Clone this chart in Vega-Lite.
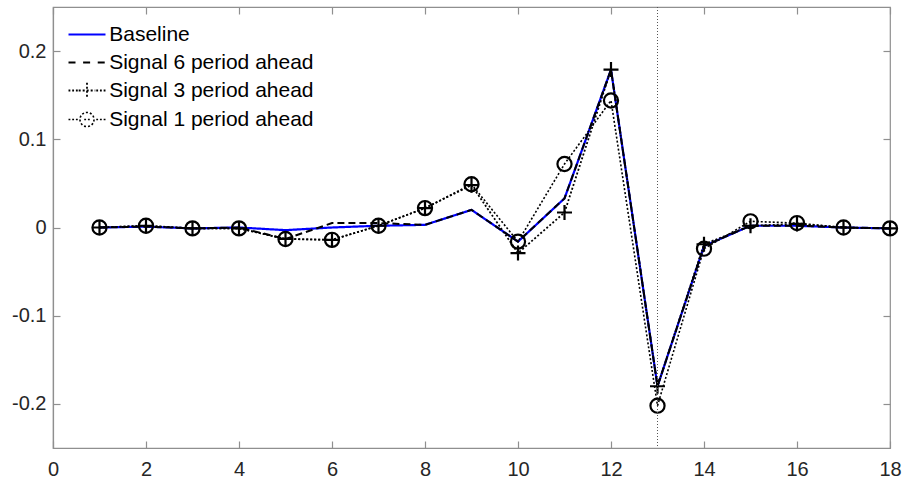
{
  "$schema": "https://vega.github.io/schema/vega-lite/v6.json",
  "width": 837,
  "height": 441,
  "autosize": {"type": "none"},
  "padding": {"left": 53, "top": 7, "right": 15, "bottom": 35},
  "background": "white",
  "config": {
    "view": {"stroke": "#8f8f8f", "strokeWidth": 1.2},
    "axis": {
      "grid": false,
      "domainColor": "#8f8f8f",
      "domainWidth": 1.2,
      "tickColor": "#8f8f8f",
      "tickWidth": 1.2,
      "tickSize": -7,
      "labelFont": "Liberation Sans",
      "labelFontSize": 20,
      "labelColor": "#262626",
      "title": null
    }
  },
  "data": {
    "values": [
      {"t": 1, "Baseline": 0.000, "Signal 6 period ahead": 0.000, "Signal 3 period ahead": 0.000, "Signal 1 period ahead": 0.000},
      {"t": 2, "Baseline": 0.001, "Signal 6 period ahead": 0.001, "Signal 3 period ahead": 0.002, "Signal 1 period ahead": 0.002},
      {"t": 3, "Baseline": -0.001, "Signal 6 period ahead": -0.001, "Signal 3 period ahead": -0.001, "Signal 1 period ahead": -0.001},
      {"t": 4, "Baseline": 0.000, "Signal 6 period ahead": 0.000, "Signal 3 period ahead": -0.001, "Signal 1 period ahead": -0.001},
      {"t": 5, "Baseline": -0.003, "Signal 6 period ahead": -0.013, "Signal 3 period ahead": -0.013, "Signal 1 period ahead": -0.013},
      {"t": 6, "Baseline": 0.000, "Signal 6 period ahead": 0.005, "Signal 3 period ahead": -0.014, "Signal 1 period ahead": -0.014},
      {"t": 7, "Baseline": 0.002, "Signal 6 period ahead": 0.005, "Signal 3 period ahead": 0.002, "Signal 1 period ahead": 0.002},
      {"t": 8, "Baseline": 0.003, "Signal 6 period ahead": 0.003, "Signal 3 period ahead": 0.022, "Signal 1 period ahead": 0.022},
      {"t": 9, "Baseline": 0.020, "Signal 6 period ahead": 0.020, "Signal 3 period ahead": 0.048, "Signal 1 period ahead": 0.049},
      {"t": 10, "Baseline": -0.016, "Signal 6 period ahead": -0.016, "Signal 3 period ahead": -0.029, "Signal 1 period ahead": -0.016},
      {"t": 11, "Baseline": 0.033, "Signal 6 period ahead": 0.033, "Signal 3 period ahead": 0.017, "Signal 1 period ahead": 0.072},
      {"t": 12, "Baseline": 0.179, "Signal 6 period ahead": 0.179, "Signal 3 period ahead": 0.179, "Signal 1 period ahead": 0.144},
      {"t": 13, "Baseline": -0.180, "Signal 6 period ahead": -0.180, "Signal 3 period ahead": -0.180, "Signal 1 period ahead": -0.202},
      {"t": 14, "Baseline": -0.021, "Signal 6 period ahead": -0.021, "Signal 3 period ahead": -0.019, "Signal 1 period ahead": -0.024},
      {"t": 15, "Baseline": 0.002, "Signal 6 period ahead": 0.002, "Signal 3 period ahead": 0.002, "Signal 1 period ahead": 0.007},
      {"t": 16, "Baseline": 0.002, "Signal 6 period ahead": 0.002, "Signal 3 period ahead": 0.004, "Signal 1 period ahead": 0.005},
      {"t": 17, "Baseline": 0.000, "Signal 6 period ahead": 0.000, "Signal 3 period ahead": 0.000, "Signal 1 period ahead": 0.000},
      {"t": 18, "Baseline": -0.001, "Signal 6 period ahead": -0.001, "Signal 3 period ahead": -0.001, "Signal 1 period ahead": -0.001}
    ]
  },
  "transform": [
    {"fold": ["Baseline", "Signal 6 period ahead", "Signal 3 period ahead", "Signal 1 period ahead"], "as": ["series", "v"]}
  ],
  "resolve": {"axis": {"x": "independent", "y": "independent"}},
  "layer": [
    {
      "mark": {"type": "line"},
      "encoding": {
        "x": {
          "field": "t", "type": "quantitative",
          "scale": {"domain": [0, 18], "nice": false, "zero": false},
          "axis": {"orient": "bottom", "values": [0, 2, 4, 6, 8, 10, 12, 14, 16, 18], "labelPadding": 18, "labelFlush": false}
        },
        "y": {
          "field": "v", "type": "quantitative",
          "scale": {"domain": [-0.25, 0.25], "nice": false, "zero": false},
          "axis": {
            "orient": "left",
            "values": [-0.2, -0.1, 0, 0.1, 0.2],
            "labelPadding": 14,
            "labelExpr": "datum.value == 0 ? '0' : (datum.value < 0 ? '-' : '') + format(abs(datum.value), '.1f')"
          }
        },
        "strokeWidth": {
          "field": "series", "type": "nominal",
          "scale": {
            "domain": ["Baseline", "Signal 6 period ahead", "Signal 3 period ahead", "Signal 1 period ahead"],
            "range": [2.2, 1.6, 1.6, 1.6]
          },
          "legend": null
        },
        "color": {
          "field": "series", "type": "nominal",
          "scale": {
            "domain": ["Baseline", "Signal 6 period ahead", "Signal 3 period ahead", "Signal 1 period ahead"],
            "range": ["#0000ff", "#000000", "#000000", "#000000"]
          },
          "legend": {
            "title": null,
            "orient": "none",
            "legendX": 23.5,
            "legendY": 17,
            "padding": 0,
            "symbolSize": 342,
            "symbolStrokeWidth": 2,
            "labelFont": "Liberation Sans",
            "labelFontSize": 21,
            "labelLimit": 0,
            "labelColor": "#000000",
            "labelOffset": 11.7,
            "rowPadding": 6,
            "encode": {
              "symbols": {
                "update": {
                  "fill": {"value": "transparent"},
                  "strokeDash": {"value": []},
                  "strokeWidth": {"value": 2.2},
                  "shape": {
                    "signal": "datum.value === 'Baseline' ? 'M-2,0H2' : datum.value === 'Signal 6 period ahead' ? 'M-2,0h0.84M-0.42,0h0.84M1.16,0h0.84' : datum.value === 'Signal 3 period ahead' ? 'M-2,0h0.2M-1.6,0h0.2M-1.2,0h0.2M-0.9,0H0.9M0,-0.84V0.84M1,0h0.2M1.4,0h0.2M1.8,0h0.2' : 'M-2,0h0.2M-1.6,0h0.2M-1.2,0h0.2M-0.76,0a0.76,0.76 0 1,0 1.52,0a0.76,0.76 0 1,0 -1.52,0M-0.3,0h0.2M0.1,0h0.2M1,0h0.2M1.4,0h0.2M1.8,0h0.2'"
                  }
                }
              }
            }
          }
        },
        "strokeDash": {
          "field": "series", "type": "nominal",
          "scale": {
            "domain": ["Baseline", "Signal 6 period ahead", "Signal 3 period ahead", "Signal 1 period ahead"],
            "range": [[1, 0], [7, 4], [2, 2], [2, 2]]
          },
          "legend": null
        }
      }
    },
    {
      "transform": [{"filter": "datum.series === 'Signal 3 period ahead'"}],
      "mark": {"type": "point", "shape": "M-1,0H1M0,-1V1", "filled": false, "stroke": "#000000", "opacity": 1, "strokeWidth": 2.2, "size": 225},
      "encoding": {
        "x": {"field": "t", "type": "quantitative", "axis": {"orient": "top", "values": [0, 2, 4, 6, 8, 10, 12, 14, 16, 18], "labels": false, "domain": false}},
        "y": {"field": "v", "type": "quantitative", "axis": {"orient": "right", "values": [-0.2, -0.1, 0, 0.1, 0.2], "labels": false, "domain": false}}
      }
    },
    {
      "transform": [{"filter": "datum.series === 'Signal 1 period ahead'"}],
      "mark": {"type": "point", "shape": "circle", "filled": false, "stroke": "#000000", "opacity": 1, "strokeWidth": 2.2, "size": 200},
      "encoding": {
        "x": {"field": "t", "type": "quantitative", "axis": null},
        "y": {"field": "v", "type": "quantitative", "axis": null}
      }
    },
    {
      "data": {"values": [{"t": 13}]},
      "mark": {"type": "rule", "stroke": "#555555", "strokeWidth": 1, "strokeDash": [1, 2]},
      "encoding": {
        "x": {"field": "t", "type": "quantitative", "axis": null}
      }
    }
  ]
}
